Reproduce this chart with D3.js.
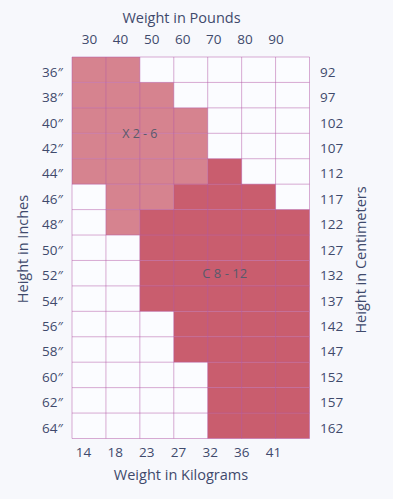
<!DOCTYPE html>
<html>
<head>
<meta charset="utf-8">
<script src="https://cdn.jsdelivr.net/npm/d3@7"></script>
<style>
  html, body { margin: 0; padding: 0; background: #f7f8fc; }
  svg { display: block; font-family: "Open Sans", "Noto Sans", sans-serif; }
</style>
</head>
<body>
<div id="chart"></div>
<script>
// ---- data ----
const poundCols = ["30", "40", "50", "60", "70", "80", "90"];
const kgLabels = ["14", "18", "23", "27", "32", "36", "41"];
const heightsIn = [36, 38, 40, 42, 44, 46, 48, 50, 52, 54, 56, 58, 60, 62, 64];
const heightsCm = [92, 97, 102, 107, 112, 117, 122, 127, 132, 137, 142, 147, 152, 157, 162];

// size X 2 - 6: per height row, weight range (pounds columns)
const x26Heights = [36, 38, 40, 42, 44, 46, 48];
const x26From    = ["30", "30", "30", "30", "30", "40", "40"];
const x26To      = ["40", "50", "60", "60", "60", "50", "40"];

// size C 8 - 12
const c812Heights = [44, 46, 48, 50, 52, 54, 56, 58, 60, 62, 64];
const c812From    = ["70", "60", "50", "50", "50", "50", "60", "60", "70", "70", "70"];
const c812To      = ["70", "80", "90", "90", "90", "90", "90", "90", "90", "90", "90"];

const sizeNames = ["X 2 - 6", "C 8 - 12"];

// ---- layout ----
const W = 393, H = 499;
const gridL = 72, gridR = 309.5, gridT = 57, gridB = 438.5;
const textColor = "#3f4a6c";

const svg = d3.select("#chart").append("svg").attr("width", W).attr("height", H);

const x = d3.scaleBand().domain(poundCols).range([gridL, gridR]).paddingInner(0).paddingOuter(0);
const y = d3.scaleBand().domain(heightsIn).range([gridT, gridB]);
const yCm = d3.scaleBand().domain(heightsCm).range([gridT, gridB]);
const xLb = d3.scalePoint().domain(poundCols).range([89.5, 276]);
const xKg = d3.scalePoint().domain(kgLabels).range([83.5, 273.5]);

// background cells
svg.append("rect")
  .attr("x", gridL).attr("y", gridT)
  .attr("width", gridR - gridL).attr("height", gridB - gridT)
  .attr("fill", "#fbfcff");

function drawSize(heights, from, to, color) {
  const rows = heights.map((h, i) => ({ h, from: from[i], to: to[i] }));
  svg.append("g").selectAll("rect").data(rows).join("rect")
    .attr("x", d => x(d.from))
    .attr("y", d => y(d.h))
    .attr("width", d => x(d.to) + x.bandwidth() - x(d.from))
    .attr("height", y.bandwidth())
    .attr("fill", color);
}
drawSize(x26Heights, x26From, x26To, "#d6838f");
drawSize(c812Heights, c812From, c812To, "#c95d6e");

// grid lines
const grid = svg.append("g").attr("stroke", "#b45aa8").attr("stroke-opacity", 0.5).attr("stroke-width", 1);
grid.selectAll("line.v").data(poundCols.concat(["end"])).join("line")
  .attr("class", "v")
  .attr("x1", (d, i) => i < poundCols.length ? x(d) : gridR)
  .attr("x2", (d, i) => i < poundCols.length ? x(d) : gridR)
  .attr("y1", gridT).attr("y2", gridB);
grid.selectAll("line.h").data(heightsIn.concat(["end"])).join("line")
  .attr("class", "h")
  .attr("y1", (d, i) => i < heightsIn.length ? y(d) : gridB)
  .attr("y2", (d, i) => i < heightsIn.length ? y(d) : gridB)
  .attr("x1", gridL).attr("x2", gridR);

// axis labels
const fs = 13.5;
svg.append("g").selectAll("text").data(poundCols).join("text")
  .attr("x", d => xLb(d)).attr("y", 44)
  .attr("text-anchor", "middle").attr("font-size", fs).attr("fill", textColor)
  .text(d => d);

svg.append("g").selectAll("text").data(kgLabels).join("text")
  .attr("x", d => xKg(d)).attr("y", 456.5)
  .attr("text-anchor", "middle").attr("font-size", fs).attr("fill", textColor)
  .text(d => d);

svg.append("g").selectAll("text").data(heightsIn).join("text")
  .attr("x", 63).attr("y", d => y(d) + y.bandwidth() / 2 + 7)
  .attr("text-anchor", "end").attr("font-size", fs).attr("fill", textColor)
  .text(d => d + "\u2033");

svg.append("g").selectAll("text").data(heightsCm).join("text")
  .attr("x", 320).attr("y", d => yCm(d) + yCm.bandwidth() / 2 + 7)
  .attr("text-anchor", "start").attr("font-size", fs).attr("fill", textColor)
  .text(d => d);

// titles
const tfs = 14.5;
svg.append("text").attr("x", 181.5).attr("y", 23)
  .attr("text-anchor", "middle").attr("font-size", tfs).attr("fill", textColor)
  .text("Weight in Pounds");
svg.append("text").attr("x", 181).attr("y", 480)
  .attr("text-anchor", "middle").attr("font-size", tfs).attr("fill", textColor)
  .text("Weight in Kilograms");
svg.append("text").attr("transform", "translate(28,249) rotate(-90)")
  .attr("text-anchor", "middle").attr("font-size", tfs).attr("fill", textColor)
  .text("Height in Inches");
svg.append("text").attr("transform", "translate(366,260) rotate(-90)")
  .attr("text-anchor", "middle").attr("font-size", tfs).attr("fill", textColor)
  .text("Height in Centimeters");

// size annotations
svg.append("text")
  .attr("x", x("50")).attr("y", y(42) + 4.5)
  .attr("text-anchor", "middle").attr("font-size", 12.5).attr("fill", "#585a6c")
  .text(sizeNames[0]);
svg.append("text")
  .attr("x", x("70") + x.bandwidth() / 2).attr("y", y(52) + y.bandwidth() / 2 + 5)
  .attr("text-anchor", "middle").attr("font-size", 13).attr("fill", "#585a6c")
  .text(sizeNames[1]);
</script>
</body>
</html>
